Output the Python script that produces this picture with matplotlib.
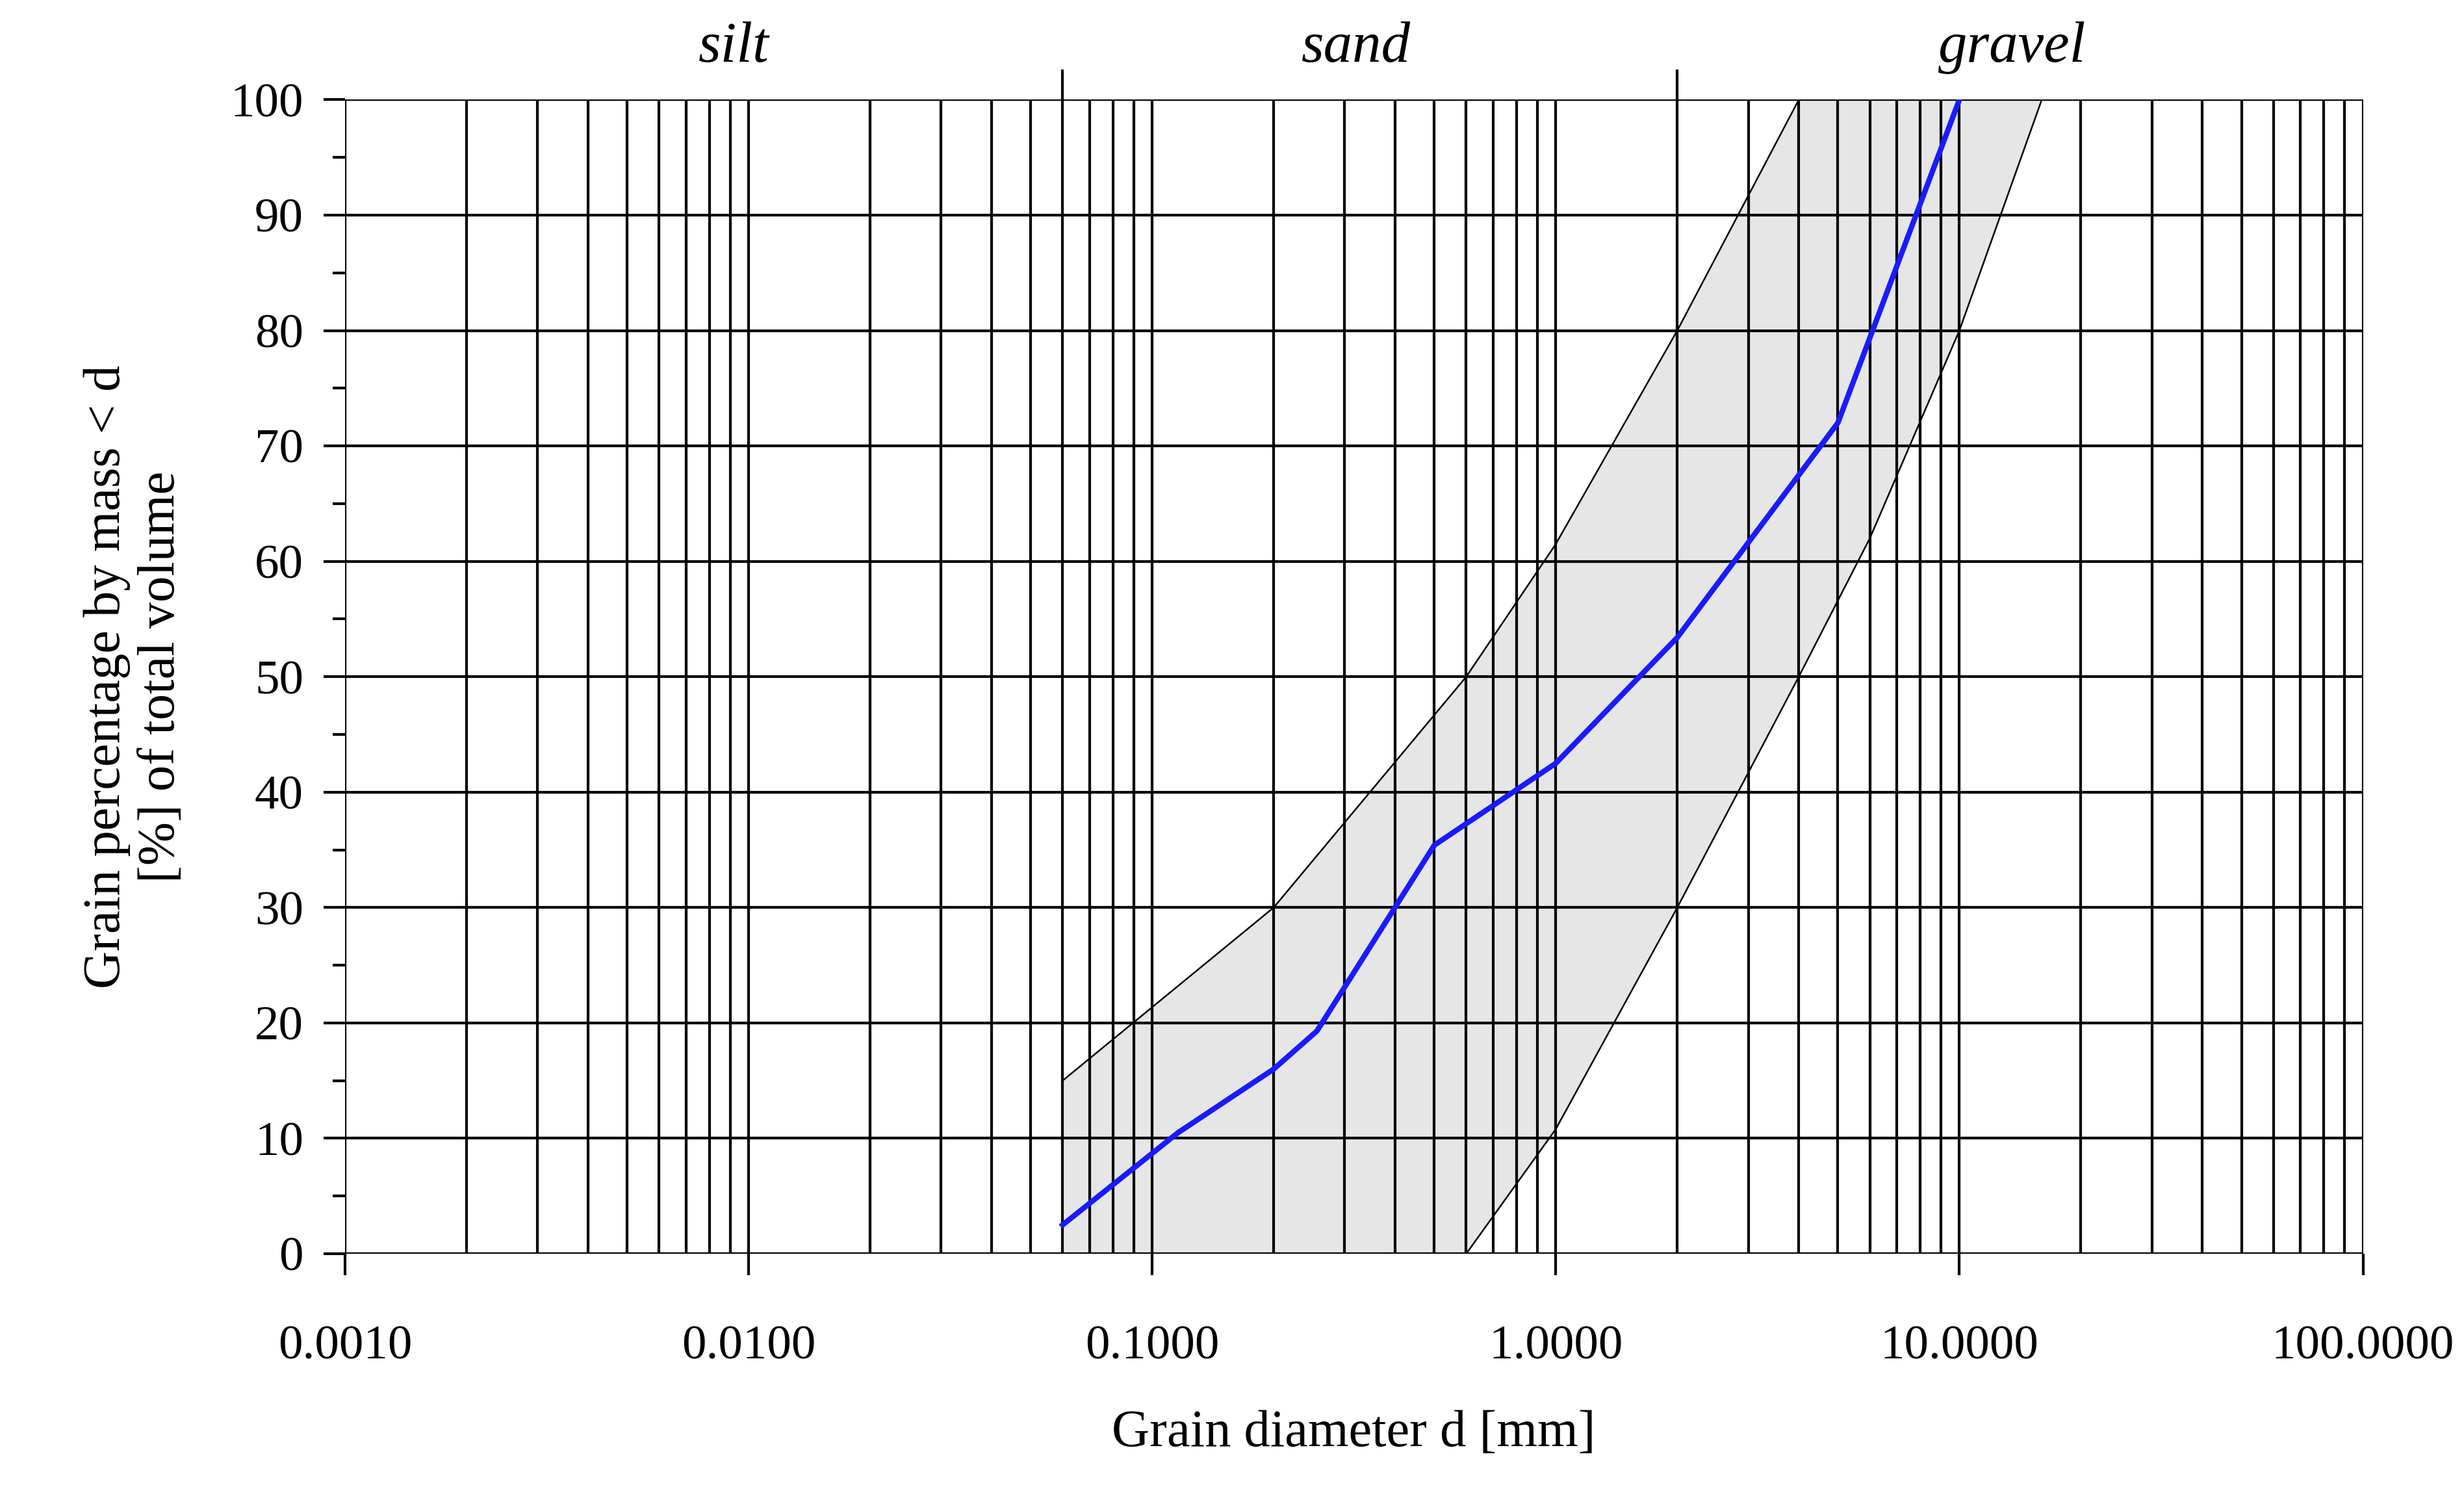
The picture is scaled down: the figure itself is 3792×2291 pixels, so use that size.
import numpy as np
import matplotlib.pyplot as plt
from matplotlib.ticker import FixedLocator, FuncFormatter

# grading curve of the sample (blue)
sample_d = [0.06, 0.116, 0.2, 0.256, 0.5, 1.0, 2.0, 5.0, 10.0]
sample_p = [2.5, 10.5, 16.0, 19.3, 35.4, 42.5, 53.4, 72.0, 100.0]

# envelope of the recommended zone
upper_d = [0.06, 0.2, 0.6, 1.0, 2.0, 4.0]
upper_p = [15.0, 30.0, 50.0, 61.5, 80.0, 100.0]
lower_d = [0.6, 1.0, 2.0, 4.0, 6.0, 10.0, 16.0]
lower_p = [0.0, 10.8, 30.0, 50.0, 62.0, 80.0, 100.0]

zones = ["silt", "sand", "gravel"]
zone_x = [0.0092, 0.32, 13.5]
zone_borders = [0.06, 2.0]

plt.rcParams["font.family"] = ["Liberation Serif", "DejaVu Serif"]

fig = plt.figure(figsize=(37.92, 22.91), dpi=100)
ax = fig.add_axes([0.140, 0.158, 0.819, 0.775])
ax.set_xscale("log")
ax.set_xlim(0.001, 100)
ax.set_ylim(0, 100)

# vertical grid: every 1..9 in each decade
for dec in range(-3, 2):
    for k in range(1, 10):
        ax.axvline(k * 10.0 ** dec, color="black", lw=3.0, zorder=1)
ax.axvline(100, color="black", lw=3.0, zorder=1)
for y in range(0, 101, 10):
    ax.axhline(y, color="black", lw=3.0, zorder=1)

# shaded zone, closed along the bottom axis
poly_x = upper_d + lower_d[::-1] + [upper_d[0]]
poly_y = upper_p + lower_p[::-1] + [0.0]
ax.fill(poly_x, poly_y, color="#e6e6e6", zorder=0.5, lw=0)
ax.plot(upper_d, upper_p, color="black", lw=1.8, zorder=2)
ax.plot(lower_d, lower_p, color="black", lw=1.8, zorder=2)
ax.plot(sample_d, sample_p, color="#1a1aff", lw=6, zorder=3)

for s in ax.spines.values():
    s.set_visible(False)

ax.xaxis.set_major_locator(FixedLocator([0.001, 0.01, 0.1, 1, 10, 100]))
ax.xaxis.set_minor_locator(FixedLocator([]))
ax.xaxis.set_major_formatter(FuncFormatter(lambda v, p: f"{v:.4f}"))
ax.set_yticks(range(0, 101, 10))
ax.set_yticks(range(5, 100, 10), minor=True)
ax.tick_params(axis="both", which="major", labelsize=54, length=24, width=3.0, pad=22)
ax.tick_params(axis="y", which="minor", length=14, width=3.0)
ax.tick_params(axis="x", pad=55)

ax.set_xlabel("Grain diameter d [mm]", fontsize=58, labelpad=45)
ax.set_ylabel("Grain percentage by mass < d\n[%] of total volume", fontsize=58, labelpad=50)

for name, x in zip(zones, zone_x):
    ax.text(x, 104.5, name, fontsize=64, style="italic", ha="center", va="center")
for x in zone_borders:
    ax.plot([x, x], [100, 102.5], color="black", lw=3.0, clip_on=False)

fig.savefig("out.png", dpi=100)
